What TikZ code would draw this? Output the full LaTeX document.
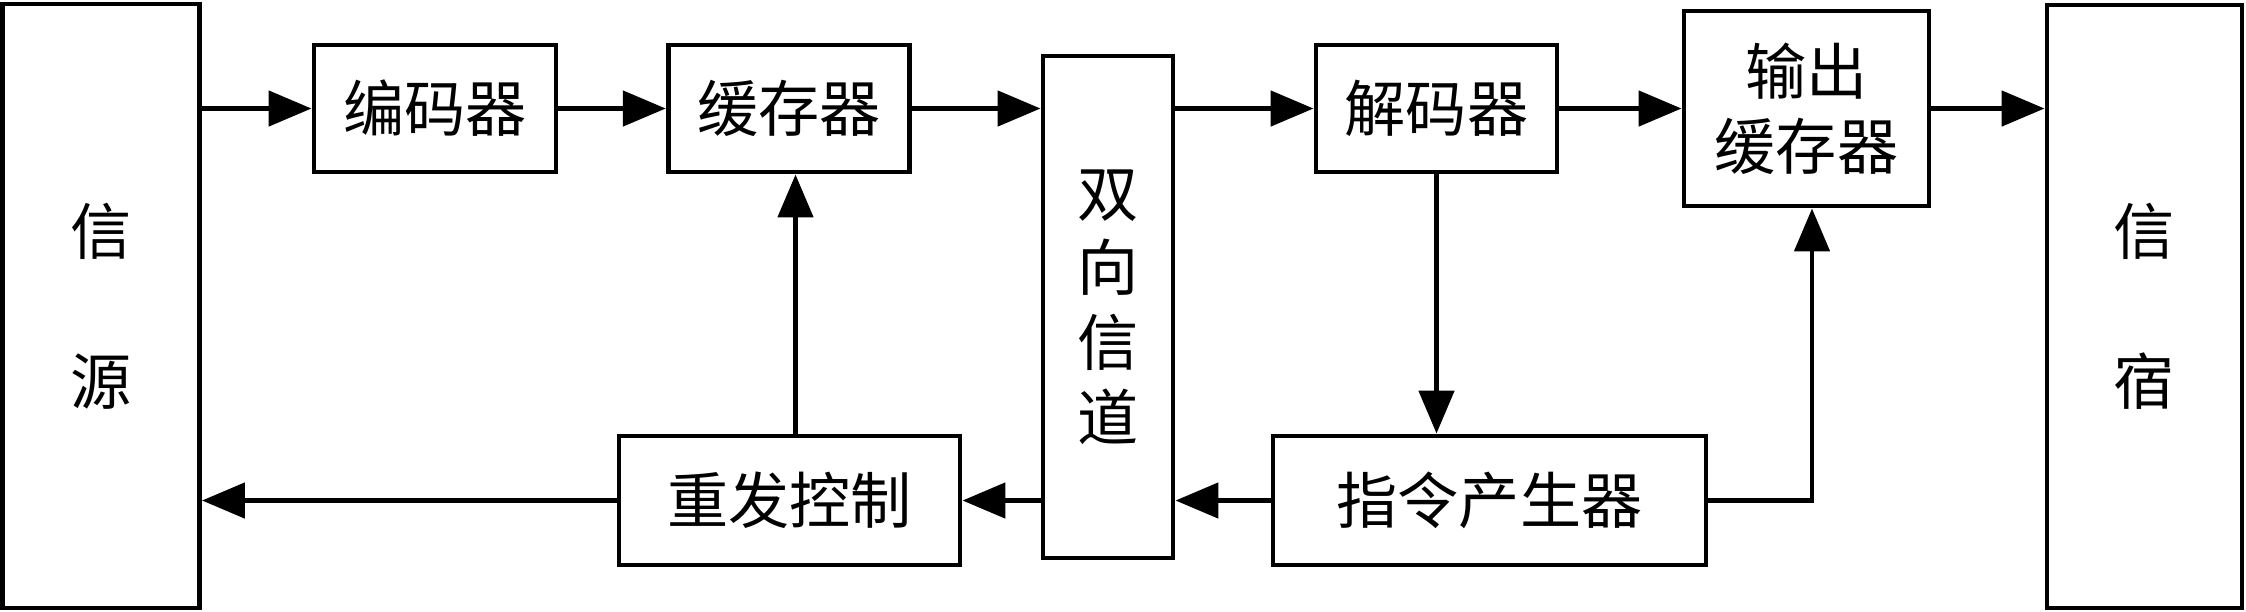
\documentclass[tikz,border=0pt]{standalone}
\usepackage{fontspec}
\newfontfamily\cjk{Noto Sans CJK SC}
\usetikzlibrary{%
  arrows.meta% wg. Triangle
}

\begin{document}
\begin{tikzpicture}
  [font=\cjk\fontsize{17.4pt}{21.3pt}\selectfont, line width=1.4pt, draw=black,
   >={Triangle[length=4.3mm,width=3.5mm]},
   blk/.style={draw, align=center, inner sep=0pt}]

\useasboundingbox (0,0) rectangle (22.46,-6.11);

\node[blk, minimum width=1.97cm, minimum height=6.04cm] (src) at (1.01,-3.06) {信\\[0.75cm]源};
\node[blk, minimum width=2.42cm, minimum height=1.27cm] (enc) at (4.35,-1.085) {编码器};
\node[blk, minimum width=2.415cm, minimum height=1.27cm] (buf) at (7.89,-1.085) {缓存器};
\node[blk, minimum width=1.30cm, minimum height=5.02cm] (chan) at (11.08,-3.07) {双\\向\\信\\道};
\node[blk, minimum width=2.41cm, minimum height=1.27cm] (dec) at (14.365,-1.085) {解码器};
\node[blk, minimum width=2.45cm, minimum height=1.95cm] (outbuf) at (18.065,-1.085) {输出\\缓存器};
\node[blk, minimum width=1.95cm, minimum height=6.03cm] (snk) at (21.445,-3.065) {信\\[0.75cm]宿};
\node[blk, minimum width=3.41cm, minimum height=1.29cm] (resend) at (7.895,-5.005) {重发控制};
\node[blk, minimum width=4.33cm, minimum height=1.29cm] (cmd) at (14.895,-5.005) {指令产生器};

\draw[->] (src.east |- enc.west) -- (enc.west);
\draw[->] (enc.east) -- (buf.west);
\draw[->] (buf.east) -- (buf.east -| chan.west);
\draw[->] (chan.east |- dec.west) -- (dec.west);
\draw[->] (dec.east) -- (dec.east -| outbuf.west);
\draw[->] (outbuf.east) -- (outbuf.east -| snk.west);

\draw[->] (dec.south) -- (dec.south |- cmd.north);
\draw[->] (cmd.east) -| ([xshift=0.055cm]outbuf.south);
\draw[->] (cmd.west) -- (cmd.west -| chan.east);
\draw[->] (chan.west |- resend.east) -- (resend.east);
\draw[->] (resend.west) -- (resend.west -| src.east);
\draw[->] ([xshift=0.065cm]resend.north -| buf.south) -- ([xshift=0.065cm]buf.south);
\end{tikzpicture}
\end{document}
